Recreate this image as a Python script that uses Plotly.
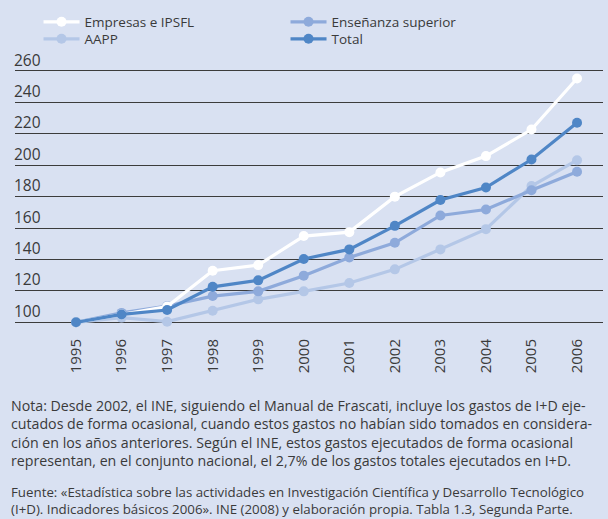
import plotly.graph_objects as go

years = [1995, 1996, 1997, 1998, 1999, 2000, 2001, 2002, 2003, 2004, 2005, 2006]
empresas = [100, 105, 110, 132.8, 136.4, 154.9, 157.4, 180, 195.4, 205.8, 222.7, 255.2]
ensenanza = [100, 106, 110.4, 116.7, 119.7, 129.7, 141.3, 150.6, 168, 171.8, 184.1, 195.8]
aapp = [100, 103, 100.4, 107.4, 114.6, 119.7, 125, 133.7, 146.4, 159.3, 186.7, 203.2]
total = [100, 105, 107.8, 122.6, 126.7, 140.3, 146.4, 161.4, 177.8, 185.8, 203.6, 227]
ytick_vals = [100, 120, 140, 160, 180, 200, 220, 240, 260]

BG = "#d9e1f2"
TXT = "#3a3a3a"
FONT = "Open Sans"

fig = go.Figure()
series = [
    ("AAPP", aapp, "#b4c7e7", "legend2", 1),
    ("Enseñanza superior", ensenanza, "#8eaadb", "legend", 2),
    ("Empresas e IPSFL", empresas, "#ffffff", "legend", 1),
    ("Total", total, "#4f86c6", "legend2", 2),
]
for name, vals, col, leg, rank in series:
    fig.add_trace(go.Scatter(
        x=years, y=vals, name=name, mode="lines+markers",
        line=dict(color=col, width=3.2),
        marker=dict(color=col, size=10),
        legend=leg, legendrank=rank, cliponaxis=False,
    ))

legend_common = dict(
    orientation="h", x=0.040, xanchor="left", yref="container",
    yanchor="middle", entrywidth=196, bgcolor="rgba(0,0,0,0)",
    font=dict(size=13.5, color=TXT, family=FONT), itemwidth=36, tracegroupgap=0,
)

fig.update_layout(
    width=608, height=519,
    margin=dict(l=15, r=5, t=40, b=189, autoexpand=False),
    paper_bgcolor=BG, plot_bgcolor=BG,
    font=dict(family=FONT, color=TXT, size=14),
    showlegend=True,
    legend=dict(y=1 - 22 / 519, **legend_common),
    legend2=dict(y=1 - 39 / 519, **legend_common),
    xaxis=dict(
        range=[1993.66, 2006.57], tickvals=years, ticktext=[str(y) for y in years],
        tickangle=-90, showgrid=False, zeroline=False, showline=False,
        ticks="", ticklabelstandoff=5,
        tickfont=dict(size=15, color=TXT, family=FONT),
    ),
    yaxis=dict(
        range=[95.1, 279.7], tickvals=ytick_vals, showgrid=True,
        gridcolor="#3c3c3c", gridwidth=1.2, zeroline=False, showline=False,
        ticks="", ticklabelposition="inside top", ticklabelstandoff=-4,
        tickfont=dict(size=15.5, color=TXT, family=FONT),
    ),
)

nota = ("Nota: Desde 2002, el INE, siguiendo el Manual de Frascati, incluye los gastos de I+D eje-<br>"
        "cutados de forma ocasional, cuando estos gastos no habían sido tomados en considera-<br>"
        "ción en los años anteriores. Según el INE, estos gastos ejecutados de forma ocasional<br>"
        "representan, en el conjunto nacional, el 2,7% de los gastos totales ejecutados en I+D.")
fuente = ("Fuente: «Estadística sobre las actividades en Investigación Científica y Desarrollo Tecnológico<br>"
          "(I+D). Indicadores básicos 2006». INE (2008) y elaboración propia. Tabla 1.3, Segunda Parte.")

# plot area height is 290 px (t=40, b=189); bottom edge at 330 px
fig.add_annotation(text=nota, xref="paper", yref="paper", x=-0.01, xanchor="left",
                   y=-(394 - 330) / 290, yanchor="top", showarrow=False, align="left",
                   font=dict(size=14.2, color=TXT, family=FONT))
fig.add_annotation(text=fuente, xref="paper", yref="paper", x=-0.01, xanchor="left",
                   y=-(481 - 330) / 290, yanchor="top", showarrow=False, align="left",
                   font=dict(size=13.3, color=TXT, family=FONT))

fig.write_html("out.html",
               config={"displayModeBar": False},
               post_script="document.body.style.margin='0';"
                           "document.body.style.background='" + BG + "';")
